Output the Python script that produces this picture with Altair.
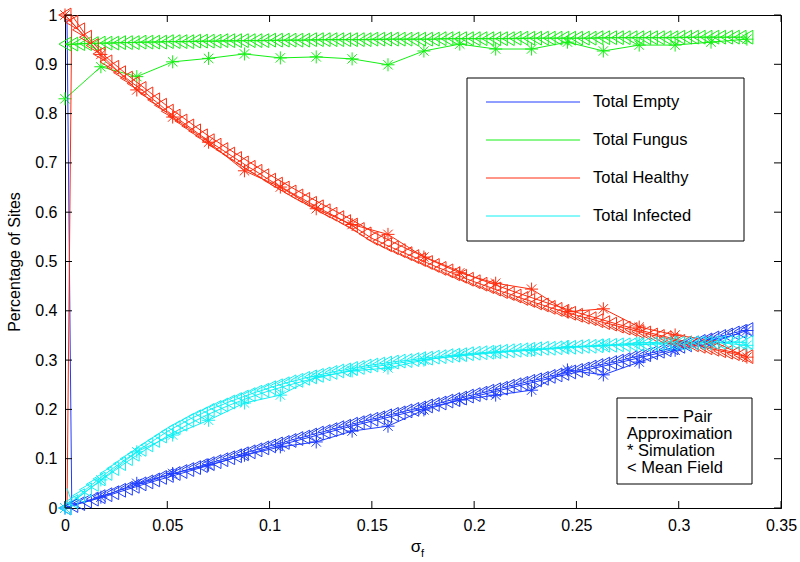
import altair as alt
import pandas as pd

FONT = "Liberation Sans"

series_names = ["Total Empty", "Total Fungus", "Total Healthy", "Total Infected"]
series_colors = ["#1f3dff", "#14f014", "#ff2d0f", "#10f0f4"]

x_ticks = [0, 0.05, 0.1, 0.15, 0.2, 0.25, 0.3, 0.35]
y_ticks = [0, 0.1, 0.2, 0.3, 0.4, 0.5, 0.6, 0.7, 0.8, 0.9, 1]

# ---- Mean field (< markers), sampled every 1/300 on [0, 1/3]
mf_x = [round(i / 300, 5) for i in range(101)]
mf_empty = [0.000, 0.005, 0.009, 0.014, 0.018, 0.023, 0.027, 0.031, 0.036, 0.040,
            0.044, 0.049, 0.053, 0.057, 0.062, 0.066, 0.070, 0.074, 0.078, 0.082,
            0.086, 0.090, 0.094, 0.098, 0.102, 0.106, 0.110, 0.114, 0.118, 0.122,
            0.126, 0.130, 0.133, 0.137, 0.141, 0.144, 0.148, 0.152, 0.155, 0.159,
            0.163, 0.166, 0.170, 0.173, 0.177, 0.180, 0.183, 0.187, 0.190, 0.193,
            0.197, 0.200, 0.203, 0.207, 0.210, 0.213, 0.217, 0.220, 0.223, 0.227,
            0.230, 0.233, 0.237, 0.240, 0.243, 0.247, 0.250, 0.253, 0.257, 0.260,
            0.263, 0.267, 0.270, 0.273, 0.276, 0.279, 0.282, 0.286, 0.289, 0.292,
            0.295, 0.298, 0.301, 0.305, 0.308, 0.311, 0.315, 0.318, 0.321, 0.325,
            0.328, 0.331, 0.335, 0.338, 0.341, 0.345, 0.348, 0.351, 0.355, 0.358,
            0.362]
mf_fungus = [0.941, 0.941, 0.942, 0.942, 0.942, 0.943, 0.943, 0.943, 0.944, 0.944,
             0.944, 0.945, 0.945, 0.945, 0.945, 0.946, 0.946, 0.946, 0.946, 0.947,
             0.947, 0.947, 0.947, 0.948, 0.948, 0.948, 0.948, 0.948, 0.948, 0.948,
             0.949, 0.949, 0.949, 0.949, 0.949, 0.949, 0.950, 0.950, 0.950, 0.950,
             0.950, 0.950, 0.950, 0.950, 0.950, 0.951, 0.951, 0.951, 0.951, 0.951,
             0.951, 0.951, 0.951, 0.951, 0.951, 0.952, 0.952, 0.952, 0.952, 0.952,
             0.952, 0.952, 0.952, 0.952, 0.952, 0.952, 0.953, 0.953, 0.953, 0.953,
             0.953, 0.953, 0.953, 0.953, 0.953, 0.953, 0.953, 0.953, 0.954, 0.954,
             0.954, 0.954, 0.954, 0.954, 0.954, 0.954, 0.954, 0.954, 0.954, 0.954,
             0.955, 0.955, 0.955, 0.955, 0.955, 0.955, 0.955, 0.955, 0.955, 0.955,
             0.955]
mf_healthy = [1.000, 0.985, 0.970, 0.955, 0.938, 0.921, 0.905, 0.894, 0.883, 0.872,
              0.861, 0.851, 0.840, 0.828, 0.817, 0.805, 0.795, 0.785, 0.775, 0.765,
              0.755, 0.745, 0.736, 0.727, 0.718, 0.709, 0.700, 0.691, 0.683, 0.674,
              0.665, 0.657, 0.649, 0.641, 0.633, 0.626, 0.618, 0.611, 0.603, 0.596,
              0.589, 0.581, 0.574, 0.565, 0.556, 0.547, 0.541, 0.534, 0.528, 0.522,
              0.516, 0.510, 0.504, 0.498, 0.492, 0.486, 0.481, 0.475, 0.470, 0.464,
              0.459, 0.454, 0.449, 0.444, 0.439, 0.435, 0.430, 0.425, 0.421, 0.416,
              0.412, 0.407, 0.403, 0.399, 0.395, 0.391, 0.387, 0.384, 0.380, 0.376,
              0.373, 0.369, 0.365, 0.362, 0.358, 0.355, 0.351, 0.348, 0.345, 0.341,
              0.338, 0.335, 0.331, 0.328, 0.325, 0.322, 0.319, 0.316, 0.313, 0.310,
              0.307]
mf_infected = [0.000, 0.013, 0.025, 0.037, 0.048, 0.059, 0.070, 0.080, 0.090, 0.100,
               0.109, 0.119, 0.128, 0.137, 0.146, 0.155, 0.163, 0.170, 0.178, 0.185,
               0.191, 0.198, 0.204, 0.209, 0.215, 0.220, 0.225, 0.230, 0.235, 0.239,
               0.244, 0.248, 0.252, 0.256, 0.259, 0.263, 0.266, 0.269, 0.272, 0.275,
               0.278, 0.280, 0.283, 0.285, 0.288, 0.290, 0.292, 0.294, 0.296, 0.298,
               0.299, 0.301, 0.303, 0.304, 0.306, 0.307, 0.309, 0.310, 0.311, 0.313,
               0.314, 0.315, 0.316, 0.317, 0.318, 0.319, 0.320, 0.321, 0.322, 0.323,
               0.324, 0.324, 0.325, 0.326, 0.326, 0.327, 0.328, 0.328, 0.329, 0.330,
               0.330, 0.331, 0.331, 0.332, 0.332, 0.332, 0.333, 0.333, 0.333, 0.334,
               0.334, 0.334, 0.335, 0.335, 0.335, 0.336, 0.336, 0.336, 0.336, 0.336,
               0.336]

# ---- Pair approximation (plain lines)
pair_x = [0.001, 0.0033, 0.01, 0.02, 0.03, 0.04, 0.05, 0.06, 0.07, 0.08, 0.09,
          0.10, 0.11, 0.12, 0.13, 0.14, 0.15, 0.16, 0.17, 0.18, 0.19, 0.20, 0.21,
          0.22, 0.23, 0.24, 0.25, 0.26, 0.27, 0.28, 0.29, 0.30, 0.31, 0.32, 0.33]
pair_empty = [0.99, 0.008, 0.012, 0.024, 0.037, 0.05, 0.062, 0.074, 0.086, 0.098, 0.11,
              0.122, 0.133, 0.144, 0.155, 0.166, 0.176, 0.186, 0.196, 0.206, 0.216,
              0.226, 0.236, 0.246, 0.256, 0.266, 0.275, 0.285, 0.294, 0.304, 0.314,
              0.324, 0.334, 0.344, 0.354]
pair_fungus = [0.94, 0.94, 0.942, 0.943, 0.944, 0.945, 0.946, 0.946, 0.947, 0.947, 0.948,
               0.948, 0.949, 0.949, 0.95, 0.95, 0.95, 0.951, 0.951, 0.951, 0.952,
               0.952, 0.952, 0.952, 0.953, 0.953, 0.953, 0.953, 0.954, 0.954, 0.954,
               0.954, 0.955, 0.955, 0.955]
pair_healthy = [0.0, 1.0, 0.96, 0.915, 0.88, 0.848, 0.815, 0.785, 0.755, 0.728, 0.702,
                0.676, 0.652, 0.629, 0.607, 0.585, 0.561, 0.54, 0.52, 0.502, 0.485,
                0.468, 0.453, 0.438, 0.424, 0.41, 0.397, 0.385, 0.373, 0.362, 0.351,
                0.341, 0.331, 0.322, 0.313]
pair_infected = [0.04, 0.012, 0.033, 0.063, 0.093, 0.12, 0.146, 0.169, 0.19, 0.208, 0.224,
                 0.238, 0.25, 0.261, 0.27, 0.279, 0.286, 0.292, 0.298, 0.303, 0.307,
                 0.311, 0.315, 0.318, 0.321, 0.323, 0.326, 0.328, 0.33, 0.331, 0.333,
                 0.334, 0.335, 0.336, 0.337]

# ---- Simulation (* markers)
sim_x = [round(k / 57, 5) for k in range(20)]
sim_empty = [0.0, 0.022, 0.05, 0.07, 0.087, 0.107, 0.124, 0.134, 0.156, 0.166,
             0.199, 0.219, 0.229, 0.239, 0.28, 0.27, 0.296, 0.32, 0.335, 0.36]
sim_fungus = [0.83, 0.895, 0.875, 0.905, 0.912, 0.921, 0.913, 0.915, 0.911, 0.899,
              0.927, 0.941, 0.931, 0.931, 0.945, 0.927, 0.939, 0.939, 0.945, 0.951]
sim_healthy = [1.0, 0.92, 0.848, 0.793, 0.742, 0.684, 0.651, 0.607, 0.575, 0.555,
               0.509, 0.477, 0.456, 0.444, 0.398, 0.404, 0.367, 0.351, 0.34, 0.306]
sim_infected = [0.0, 0.057, 0.114, 0.148, 0.178, 0.213, 0.229, 0.266, 0.278, 0.284,
                0.3, 0.31, 0.316, 0.32, 0.327, 0.33, 0.335, 0.337, 0.337, 0.33]


def long_frame(xs, cols):
    rows = []
    for name, vals in zip(series_names, cols):
        for xv, yv in zip(xs, vals):
            rows.append({"x": xv, "y": yv, "series": name})
    return pd.DataFrame(rows)


df_mf = long_frame(mf_x, [mf_empty, mf_fungus, mf_healthy, mf_infected])
df_pair = long_frame(pair_x, [pair_empty, pair_fungus, pair_healthy, pair_infected])
df_sim = long_frame(sim_x, [sim_empty, sim_fungus, sim_healthy, sim_infected])

W, H = 716, 493

xscale = alt.Scale(domain=[0, 0.35], nice=False, zero=False)
yscale = alt.Scale(domain=[0, 1], nice=False, zero=False)
xaxis = alt.Axis(values=x_ticks, format="~g", ticks=False, grid=False, title=None,
                 labelFontSize=16, labelPadding=9, labelFlush=False)
yaxis = alt.Axis(values=y_ticks, format="~g", ticks=False, grid=False,
                 title="Percentage of Sites", titleFontSize=16, titleFontWeight="normal",
                 labelFontSize=16, labelPadding=8, titlePadding=12, labelFlush=False)

X = alt.X("x:Q", scale=xscale, axis=xaxis)
Y = alt.Y("y:Q", scale=yscale, axis=yaxis)
color = alt.Color("series:N", scale=alt.Scale(domain=series_names, range=series_colors), legend=None)

STAR = "M-1,0L1,0M0,-1L0,1M-0.72,-0.72L0.72,0.72M-0.72,0.72L0.72,-0.72"

sim_line = alt.Chart(df_sim).mark_line(strokeWidth=1).encode(x=X, y=Y, color=color, detail="series:N")
sim_pts = alt.Chart(df_sim).mark_point(shape=STAR, filled=False, size=170, strokeWidth=1, opacity=1).encode(
    x=X, y=Y, color=color)
pair_line = alt.Chart(df_pair).mark_line(strokeWidth=1).encode(x=X, y=Y, color=color, detail="series:N")
mf_line = alt.Chart(df_mf).mark_line(strokeWidth=1).encode(x=X, y=Y, color=color, detail="series:N")
mf_pts = alt.Chart(df_mf).mark_point(shape="triangle-left", filled=False, size=190, strokeWidth=1, opacity=1).encode(
    x=X, y=Y, color=color)

# inward ticks on all four sides (MATLAB box style)
xt = pd.DataFrame({"x": x_ticks})
yt = pd.DataFrame({"y": y_ticks})
TL = 7
tick_b = alt.Chart(xt).mark_rule(color="black", strokeWidth=1).encode(x=X, y=alt.value(H), y2=alt.value(H - TL))
tick_t = alt.Chart(xt).mark_rule(color="black", strokeWidth=1).encode(x=X, y=alt.value(0), y2=alt.value(TL))
tick_l = alt.Chart(yt).mark_rule(color="black", strokeWidth=1).encode(y=Y, x=alt.value(0), x2=alt.value(TL))
tick_r = alt.Chart(yt).mark_rule(color="black", strokeWidth=1).encode(y=Y, x=alt.value(W), x2=alt.value(W - TL))

one = pd.DataFrame({"k": [0]})
layers = [sim_line, sim_pts, pair_line, mf_line, mf_pts, tick_b, tick_t, tick_l, tick_r]

# legend 1 (series colours)
layers.append(alt.Chart(one).mark_rect(fill="white", stroke="black", strokeWidth=1).encode(
    x=alt.value(402), x2=alt.value(679), y=alt.value(63), y2=alt.value(226)))
for i, (name, col) in enumerate(zip(series_names, series_colors)):
    yy = 87 + 38 * i
    layers.append(alt.Chart(one).mark_rule(color=col, strokeWidth=1).encode(
        x=alt.value(421), x2=alt.value(515), y=alt.value(yy)))
    layers.append(alt.Chart(one).mark_text(text=name, align="left", baseline="middle", font=FONT,
                                           fontSize=16.5, color="black").encode(
        x=alt.value(528), y=alt.value(yy)))

# legend 2 (method key)
legend2_lines = ["\u2013\u200a\u2013\u200a\u2013\u200a\u2013\u200a\u2013 Pair", "Approximation",
                 "* Simulation", "< Mean Field"]
layers.append(alt.Chart(one).mark_rect(fill="white", stroke="black", strokeWidth=1).encode(
    x=alt.value(552), x2=alt.value(687), y=alt.value(383), y2=alt.value(469)))
for i, t in enumerate(legend2_lines):
    layers.append(alt.Chart(one).mark_text(text=t, align="left", baseline="middle", font=FONT,
                                           fontSize=16.5, color="black").encode(
        x=alt.value(562), y=alt.value(402 + 17 * i)))

# x-axis title sigma_f
layers.append(alt.Chart(one).mark_text(text="σ", align="center", baseline="middle", font=FONT,
                                       fontSize=17, color="black").encode(x=alt.value(351), y=alt.value(532)))
layers.append(alt.Chart(one).mark_text(text="f", align="center", baseline="middle", font=FONT,
                                       fontSize=11, color="black").encode(x=alt.value(357.5), y=alt.value(539)))

chart = alt.layer(*layers).properties(
    width=W, height=H,
    padding={"left": 65, "top": 15, "right": 19, "bottom": 54},
    autosize=alt.AutoSizeParams(type="none"),
    background="white",
).configure_view(stroke="black", strokeWidth=1).configure_axis(
    labelFont=FONT, titleFont=FONT, labelColor="black", titleColor="black",
    domainColor="black", domainWidth=1,
)

chart.save("out.html", embed_options={"renderer": "svg", "actions": False})
